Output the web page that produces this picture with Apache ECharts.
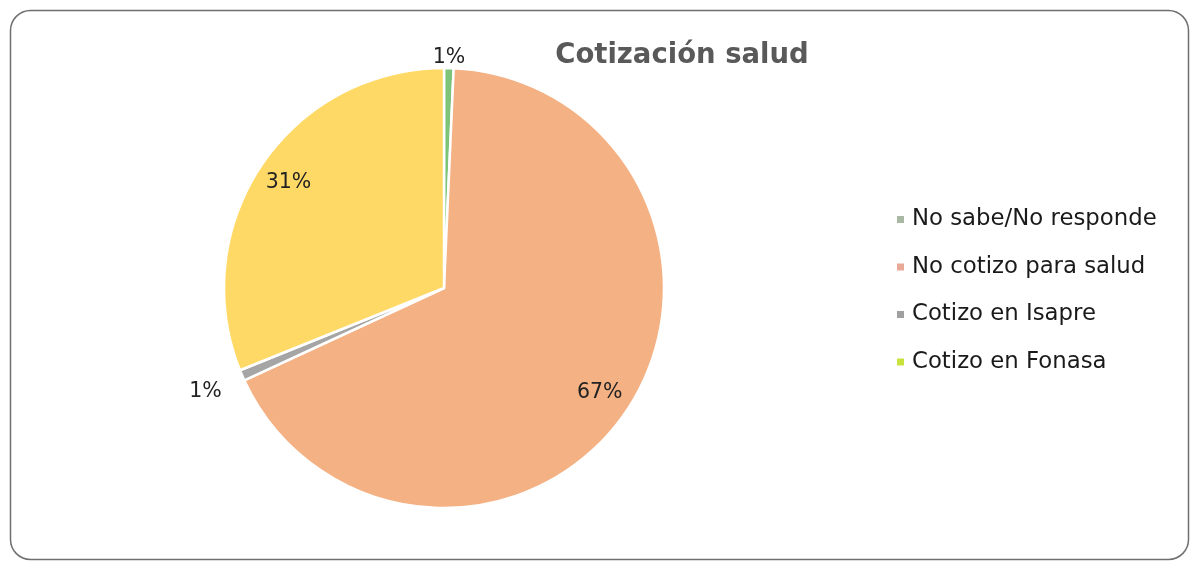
<!DOCTYPE html>
<html>
<head>
<meta charset="utf-8">
<script src="https://cdn.jsdelivr.net/npm/echarts@6/dist/echarts.min.js"></script>
<style>
html,body{margin:0;padding:0;background:#fff;}
#chart{width:1191px;height:562px;}
</style>
</head>
<body>
<div id="chart"></div>
<script>
// ---- data ----
const titleText = 'Cotización salud';
const categories = ['No sabe/No responde', 'No cotizo para salud', 'Cotizo en Isapre', 'Cotizo en Fonasa'];
const values = [0.7, 67.4, 0.8, 31.1];

// ---- styles ----
const sliceColors = ['#7dc47a', '#f4b183', '#a5a5a5', '#ffd966'];
const legendColors = ['#a9b8a2', '#e9a996', '#a0a0a0', '#c9e23e'];
const labelRadiusFactor = [1.02, 0.83, 1.15, 0.83]; // label distance as fraction of pie radius
const pieCenter = [444, 288];
const pieRadius = 220;

const chart = echarts.init(document.getElementById('chart'), null, {renderer: 'canvas'});

const option = {
  backgroundColor: '#ffffff',
  animation: false,
  title: {
    text: titleText,
    left: 677,
    top: 37,
    textAlign: 'center',
    textStyle: {
      fontFamily: 'DejaVu Sans',
      fontWeight: 'bold',
      fontSize: 27.5,
      color: '#595959'
    }
  },
  graphic: [{
    type: 'rect',
    shape: {x: 10.5, y: 10.5, width: 1178, height: 549, r: 20},
    style: {fill: 'none', stroke: '#6f6f6f', lineWidth: 1.5},
    silent: true,
    z: 100
  }],
  legend: {
    orient: 'vertical',
    left: 890,
    top: 203,
    itemWidth: 9,
    itemHeight: 9,
    itemGap: 24.5,
    icon: 'rect',
    data: categories.map((c, i) => ({name: c, itemStyle: {color: legendColors[i]}})),
    textStyle: {
      fontFamily: 'DejaVu Sans',
      fontSize: 22.8,
      color: '#1a1a1a',
      lineHeight: 22,
      padding: [0, 0, 0, 2]
    }
  },
  series: [{
    type: 'pie',
    center: pieCenter,
    radius: pieRadius,
    startAngle: 90,
    clockwise: true,
    avoidLabelOverlap: false,
    percentPrecision: 0,
    itemStyle: {borderColor: '#ffffff', borderWidth: 2.5},
    label: {
      show: true,
      position: 'inside',
      formatter: '{d}%',
      fontFamily: 'DejaVu Sans',
      fontSize: 20.5,
      color: '#222222'
    },
    labelLine: {show: false},
    labelLayout: function (params) {
      const r = params.labelRect;
      const lx = r.x + r.width / 2;
      const ly = r.y + r.height / 2;
      const f = labelRadiusFactor[params.dataIndex] / 0.5;
      return {
        x: pieCenter[0] + (lx - pieCenter[0]) * f,
        y: pieCenter[1] + (ly - pieCenter[1]) * f,
        align: 'center',
        verticalAlign: 'middle'
      };
    },
    emphasis: {disabled: true},
    data: categories.map((c, i) => ({name: c, value: values[i], itemStyle: {color: sliceColors[i]}}))
  }]
};

chart.setOption(option);
</script>
</body>
</html>
